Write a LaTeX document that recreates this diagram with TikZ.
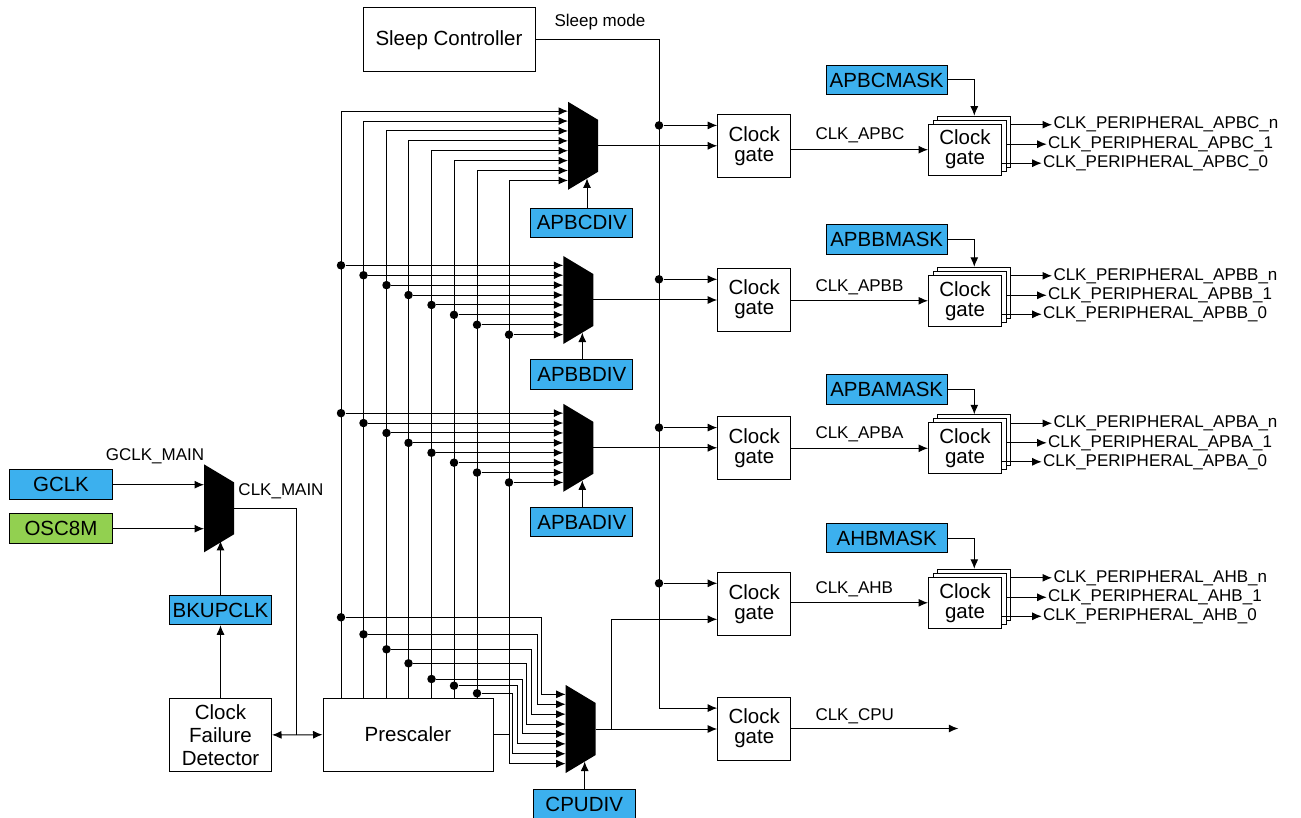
\documentclass[tikz,border=0pt]{standalone}
\usepackage{fontspec}
\setmainfont{Liberation Sans}
\usetikzlibrary{arrows.meta, positioning, calc}

\definecolor{regblue}{RGB}{60,176,238}
\definecolor{oscgreen}{RGB}{146,208,80}
\newcommand\blkfont{\fontsize{20.5}{20}\selectfont}
\newcommand\cfdfont{\fontsize{20.5}{23}\selectfont}
\newcommand\sigfont{\fontsize{17}{19}\selectfont}

\tikzset{
	pics/mux/.style={code={ % black multiplexer, origin = middle of the input side
		\fill (0,-44) -- (30,-26) -- (30,26) -- (0,44) -- cycle;
		\coordinate (-out) at (30,0);
		\coordinate (-sel) at (19,32.6);
		\coordinate (-a) at (0,-22);
		\coordinate (-b) at (0,22);
		\foreach \k in {1,...,8} {\coordinate (-in\k) at (0,{-34.65+9.9*(\k-1)});}
	}}
}

\begin{document}
\begin{tikzpicture}[
		x=1pt, y=-1pt,
		line width=1pt,
		>={Latex[length=9.5pt,width=8pt]},
		blk/.style={draw, align=center, font=\blkfont, inner sep=0pt},
		gate/.style={blk, fill=white, minimum width=73pt, minimum height=63pt},
		mgate/.style={blk, fill=white, minimum width=73pt, minimum height=51pt},
		reg/.style={blk, fill=regblue, minimum width=102pt, minimum height=29.5pt},
		mask/.style={reg, minimum width=121pt},
		sig/.style={font=\sigfont, inner sep=1pt},
		dot/.style={circle, fill, inner sep=0pt, minimum size=8.5pt}
	]
	\useasboundingbox (0,0) rectangle (1301,818);

	% clock source selection
	\node[reg, minimum width=103pt] (gclk) at (61,484.7) {GCLK};
	\node[reg, minimum width=103pt, fill=oscgreen] (osc) at (61,528.7) {OSC8M};
	\pic (gmux) at (204,508.3) {mux};
	\node[reg] (bkup) at (220.5,610) {BKUPCLK};
	\node[blk, minimum width=102pt, minimum height=73pt, font=\cfdfont] (cfd) at (220.5,735) {Clock\\Failure\\Detector};
	\node[blk, minimum width=170pt, minimum height=73pt] (pre) at (408,734.5) {Prescaler};
	\node[sig] (gml) at (155,456) {GCLK\_MAIN};
	\node[sig] (cml) at (281,491) {CLK\_MAIN};
	\coordinate (jn) at (296.7,0 |- pre.west);

	\draw[->] (gclk.east) -- (gclk.east -| gmux-a);
	\draw[->] (osc.east) -- (osc.east -| gmux-b);
	\draw[->] (cfd) -- (bkup);
	\draw[->] (bkup.north) -- (bkup.north |- gmux-sel);
	\draw (gmux-out) -| (jn);
	\draw[<->] (cfd) -- (pre);

	% prescaler dividers
	\pic (cmux) at (568,145.8) {mux};
	\pic (bmux) at (563.3,300) {mux};
	\pic (amux) at (563.3,447.8) {mux};
	\pic (pmux) at (565.7,729) {mux};
	\node[reg] (cdiv) at (581.8,222.8) {APBCDIV};
	\node[reg] (bdiv) at (581.8,374.5) {APBBDIV};
	\node[reg] (adiv) at (581.8,522) {APBADIV};
	\node[reg] (pdiv) at (584.2,804) {CPUDIV};
	\foreach \m/\d in {cmux/cdiv, bmux/bdiv, amux/adiv, pmux/pdiv}
		\draw[->] (\m-sel |- \d.north) -- (\m-sel);

	\foreach \x [count=\i] in {341,363.5,386.5,408.5,431.5,454,477} {
		\coordinate (p\i) at (\x,0 |- pre.north);
		\draw[->] (p\i) |- (cmux-in\i);
	}
	\coordinate (p8) at (509,0 |- pre.east);
	\draw (pre.east) -- (p8);
	\draw[->] (pmux-in8 -| p8) |- (cmux-in8);
	\draw[->] (pmux-in8 -| p8) -- (pmux-in8);
	\foreach \m in {bmux, amux} {
		\foreach \i in {1,...,8} {
			\node[dot] (\m-d\i) at (p\i |- \m-in\i) {};
			\draw[->] (\m-d\i) -- (\m-in\i);
		}
	}
	\foreach \i/\d/\t in {1/617.3/541.7, 2/634.3/537.3, 3/649.3/531.7, 4/663.3/526.7, 5/679/522.3, 6/685.7/517.3, 7/693.3/512.3} {
		\node[dot] (pd\i) at (p\i |- 0,\d) {};
		\draw[->] (pd\i) -| (\t,0 |- pmux-in\i) -- (pmux-in\i);
	}

	% clock gates
	\node[blk, minimum width=172pt, minimum height=64pt] (sleep) at (449,40) {Sleep Controller};
	\node[sig, anchor=west] (sml) at (553,22.5) {Sleep mode};
	\node[gate] (gC) at (754.2,145.8) {Clock\\gate};
	\node[gate] (gB) at (754.2,299.7) {Clock\\gate};
	\node[gate] (gA) at (754.2,448) {Clock\\gate};
	\node[gate] (gH) at (754.2,603.7) {Clock\\gate};
	\node[gate] (gP) at (754.2,728.5) {Clock\\gate};
	\coordinate (sv) at (659,0 |- sleep.east);
	\coordinate (sP) at ($(sv |- gP.west)+(0,-20.4)$);
	\draw[->] (sleep.east) -| (sP) -- (sP -| gP.west);
	\foreach \g in {gC, gB, gA, gH} {
		\node[dot] (s\g) at ($(sv |- \g.west)+(0,-20.4)$) {};
		\draw[->] (s\g) -- (s\g -| \g.west);
	}
	\draw[->] (cmux-out) -- (cmux-out -| gC.west);
	\draw[->] (bmux-out) -- (bmux-out -| gB.west);
	\draw[->] (amux-out) -- (amux-out -| gA.west);
	\draw[->] (pmux-out) -- (pmux-out -| gP.west);
	\coordinate (br) at (611.7,0 |- pmux-out);
	\draw[->] (br) |- ($(gH.west)+(0,15.6)$);
	\coordinate (cpuend) at (958.3,0 |- gP.east);
	\draw[->] (gP) -- (cpuend);
	\node[sig, anchor=west] (cpul) at (814,716) {CLK\_CPU};

	% peripheral masks
	\foreach \r/\y/\my/\nm in {C/149.7/80/APBC, B/300.8/239.3/APBB, A/448.3/389.3/APBA, H/602.8/538/AHB} {
		\node[mask] (k\r) at (886.7,\my) {\nm MASK};
		\node[mgate] (m\r3) at (974.3,{\y-8}) {};
		\node[mgate] (m\r2) at (969.7,{\y-4}) {};
		\node[mgate] (m\r1) at (965,\y) {Clock\\gate};
		\draw[->] (k\r) -| (m\r3);
		\draw[->] (g\r.east |- m\r1.west) -- (m\r1.west);
		\node[sig, anchor=west] (l\r) at (814,{\y-14}) {CLK\_\nm};
		\foreach \dy/\dx/\s/\b in {-25/1052/n/3, -5.5/1046.7/1/2, 13.5/1041.7/0/1} {
			\node[sig, anchor=west] (o\r\s) at (\dx,{\y+\dy}) {CLK\_PERIPHERAL\_\nm\_\s};
			\draw[->] (m\r\b.east |- o\r\s.west) -- (o\r\s.west);
		}
	}
\end{tikzpicture}
\end{document}
